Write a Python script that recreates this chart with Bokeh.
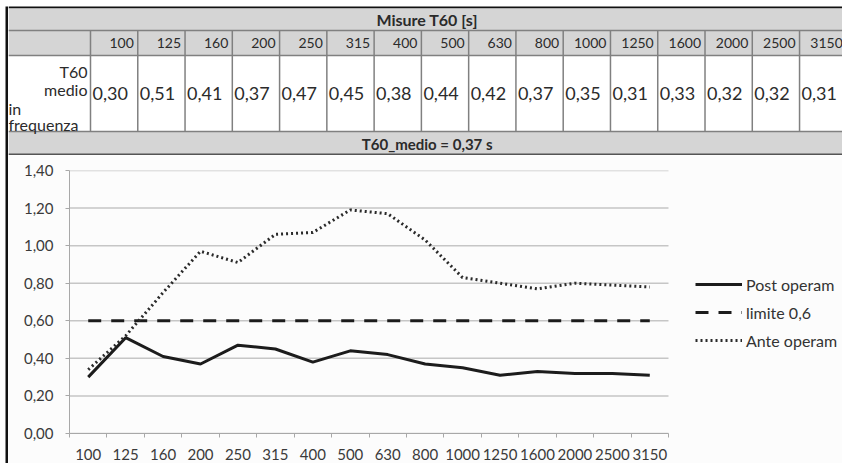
from bokeh.plotting import figure
from bokeh.layouts import row, column
from bokeh.models import Range1d, FixedTicker, CustomJSTickFormatter, Legend, LegendItem
from bokeh.core.properties import value
from bokeh.embed import file_html
from bokeh.resources import INLINE

# ---------------- data ----------------
freqs = ["100", "125", "160", "200", "250", "315", "400", "500", "630", "800",
         "1000", "1250", "1600", "2000", "2500", "3150"]
post_operam = [0.30, 0.51, 0.41, 0.37, 0.47, 0.45, 0.38, 0.44, 0.42, 0.37,
               0.35, 0.31, 0.33, 0.32, 0.32, 0.31]
ante_operam = [0.34, 0.52, 0.75, 0.97, 0.91, 1.06, 1.07, 1.19, 1.17, 1.03,
               0.83, 0.80, 0.77, 0.80, 0.79, 0.78]
limite = 0.6
t60_medio = 0.37
table_title = "Misure T60 [s]"
row_label = ["T60", "medio", "in", "frequenza"]
y_ticks = [0.0, 0.2, 0.4, 0.6, 0.8, 1.0, 1.2, 1.4]
series_names = ["Post operam", "limite 0,6", "Ante operam"]


def fmt(v):
    return f"{v:.2f}".replace(".", ",")


FONT = value("Lato")
GRAY_BG = "#d5d5d5"
CELL_LINE = "#808080"
TXT = "#2b2b2b"
n = len(freqs)

STRIP_W = 8
TOTAL_W, TOTAL_H = 842, 463

# ---------------- table ----------------
TW, TH = TOTAL_W - STRIP_W, 155
t = figure(width=TW, height=TH, x_range=Range1d(0, TW), y_range=Range1d(TH, 0),
           output_backend="svg", toolbar_location=None, min_border=0,
           x_axis_location=None, y_axis_location=None, frame_align=False)
t.grid.visible = False
t.outline_line_color = None
t.background_fill_color = "white"
t.border_fill_color = "white"

FIRST_R = 82.0
PITCH = 47.27
TBL_L = -1.0
TBL_R = FIRST_R + PITCH * n
col_l = [FIRST_R + PITCH * i for i in range(n)]
col_r = [FIRST_R + PITCH * (i + 1) for i in range(n)]
rows_top = [8, 30, 55, 131]
rows_bot = [30, 55, 131, 155]
rows_fill = [GRAY_BG, GRAY_BG, "white", GRAY_BG]

# black top border
t.quad(left=[0], right=[TW], top=[6], bottom=[8], fill_color="#111111", line_color=None)
t.quad(left=[0] * 4, right=[TW] * 4, top=rows_top, bottom=rows_bot,
       fill_color=rows_fill, line_color=None)
# horizontal cell lines
t.segment(x0=[0] * 3, x1=[TW] * 3, y0=[30, 55, 131], y1=[30, 55, 131],
          line_color=CELL_LINE, line_width=1.5)
t.segment(x0=[0], x1=[TW], y0=[154], y1=[154], line_color="#555555", line_width=2)
# vertical cell lines
vx = [FIRST_R] + col_r
t.segment(x0=vx, x1=vx, y0=[30] * len(vx), y1=[131] * len(vx),
          line_color=CELL_LINE, line_width=1.5)

center_x = (TBL_L + TBL_R) / 2
t.text(x=[center_x], y=[19], text=[table_title], text_align="center",
       text_baseline="middle", text_font=FONT, text_font_style="bold",
       text_font_size="16px", text_color=TXT)
t.text(x=[center_x], y=[143], text=[f"T60_medio = {fmt(t60_medio)} s"],
       text_align="center", text_baseline="middle", text_font=FONT,
       text_font_style="bold", text_font_size="15px", text_color=TXT)
t.text(x=[r - 4 for r in col_r], y=[42] * n, text=freqs, text_align="right",
       text_baseline="middle", text_font=FONT, text_font_size="14px", text_color=TXT)
t.text(x=[l + 2 for l in col_l], y=[93] * n, text=[fmt(v) for v in post_operam],
       text_align="left", text_baseline="middle", text_font=FONT,
       text_font_size="18px", text_color=TXT)
t.text(x=[FIRST_R - 3, FIRST_R - 3, 0, 0], y=[71, 89, 108, 124], text=row_label,
       text_align=["right", "right", "left", "left"], text_baseline="alphabetic",
       text_font=FONT, text_font_size="16px", text_color=TXT)

# ---------------- chart ----------------
CW, CH = TOTAL_W - STRIP_W, TOTAL_H - TH
PLOT_L, PLOT_W = 61, 599          # visible plotting area in pixels
FRAME_W = CW - PLOT_L             # frame extends under the legend area
x_end = n * FRAME_W / PLOT_W
p = figure(width=CW, height=CH, x_range=Range1d(0, x_end), y_range=Range1d(0, 1.4),
           output_backend="svg", toolbar_location=None, frame_align=False,
           min_border_left=PLOT_L, min_border_right=0, min_border_top=15,
           min_border_bottom=30)
p.background_fill_color = "#fcfcfc"
p.border_fill_color = "#fcfcfc"
p.outline_line_color = None

# horizontal gridlines limited to the category span
p.xgrid.visible = False
p.ygrid.visible = False
p.segment(x0=[0] * len(y_ticks), x1=[n] * len(y_ticks), y0=y_ticks, y1=y_ticks,
          line_color="#c6c6c6", line_width=1.5)

xs = [i + 0.5 for i in range(n)]
r_post = p.line(xs, post_operam, line_color="#1c1c1c", line_width=3)
r_lim = p.line(xs, [limite] * n, line_color="#1c1c1c", line_width=3, line_dash="13 10")
r_ante = p.line(xs, ante_operam, line_color="#2a2a2a", line_width=3, line_dash="2 3")

p.yaxis.ticker = FixedTicker(ticks=y_ticks)
p.yaxis.formatter = CustomJSTickFormatter(code="return tick.toFixed(2).replace('.', ',');")
p.yaxis.axis_line_color = "#a8a8a8"
p.yaxis.major_tick_line_color = "#a8a8a8"
p.yaxis.major_tick_out = 4
p.yaxis.major_tick_in = 0
p.yaxis.minor_tick_line_color = None
p.yaxis.major_label_standoff = 12

p.xaxis.bounds = (0, n)
p.xaxis.ticker = FixedTicker(ticks=xs, minor_ticks=list(range(n + 1)))
p.xaxis.formatter = CustomJSTickFormatter(args=dict(labels=freqs),
                                          code="return labels[Math.floor(tick)];")
p.xaxis.axis_line_color = "#a8a8a8"
p.xaxis.major_tick_line_color = None
p.xaxis.minor_tick_line_color = "#a8a8a8"
p.xaxis.minor_tick_out = 4
p.xaxis.minor_tick_in = 0
p.xaxis.major_label_standoff = 9

for ax in (p.xaxis, p.yaxis):
    ax.major_label_text_font = "Lato"
    ax.major_label_text_font_size = "15px"
    ax.major_label_text_color = "#3a3a3a"

legend = Legend(items=[LegendItem(label=series_names[0], renderers=[r_post]),
                       LegendItem(label=series_names[1], renderers=[r_lim]),
                       LegendItem(label=series_names[2], renderers=[r_ante])],
                location=(626, 83), orientation="vertical", glyph_width=47,
                glyph_height=20, label_height=20, spacing=8, padding=0, margin=0,
                border_line_color=None, background_fill_alpha=0, label_standoff=4,
                label_text_font="Lato", label_text_font_size="16px",
                label_text_color="#333333")
p.add_layout(legend)

# ---------------- left border strip ----------------
s = figure(width=STRIP_W, height=TOTAL_H, x_range=Range1d(0, STRIP_W),
           y_range=Range1d(TOTAL_H, 0), output_backend="svg", toolbar_location=None,
           min_border=0, x_axis_location=None, y_axis_location=None, frame_align=False)
s.grid.visible = False
s.outline_line_color = None
s.background_fill_color = "white"
s.border_fill_color = "white"
s.quad(left=[5], right=[STRIP_W], top=[6], bottom=[TOTAL_H], fill_color="#111111",
       line_color=None)

layout = row(s, column(t, p))
open("out.html", "w").write(file_html(layout, INLINE))
